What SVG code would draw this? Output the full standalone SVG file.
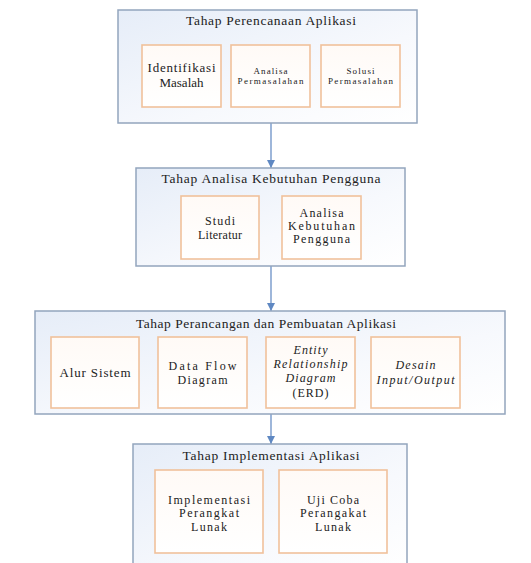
<svg xmlns="http://www.w3.org/2000/svg" width="531" height="563" viewBox="0 0 531 563">
<defs>
<linearGradient id="cg" x1="0" y1="0" x2="1" y2="1">
<stop offset="0" stop-color="#e6edf8"/>
<stop offset="0.6" stop-color="#f7f9fd"/>
<stop offset="1" stop-color="#ffffff"/>
</linearGradient>
<linearGradient id="bg" x1="0" y1="0" x2="0" y2="1">
<stop offset="0" stop-color="#fffaf6"/>
<stop offset="1" stop-color="#ffffff"/>
</linearGradient>
<marker id="ah" viewBox="0 0 10 10" refX="10" refY="5" markerWidth="8" markerHeight="8" markerUnits="userSpaceOnUse" orient="auto">
<path d="M0,0 L10,5 L0,10 z" fill="#5f88c2"/>
</marker>
<style>
.c{fill:url(#cg);stroke:#93a5bd;stroke-width:1.5}
.b{fill:url(#bg);stroke:#f0c19b;stroke-width:1.6}
text{font-family:"Liberation Serif","Times New Roman",serif;fill:#222;text-anchor:middle}
.t{font-size:13.5px}
.m{font-size:12px}
.s{font-size:9px}
.i{font-style:italic}
.a{stroke:#6a90c6;stroke-width:1.3;fill:none}
</style>
</defs>
<g id="connectors">
<line class="a" x1="271" y1="123" x2="271" y2="168" marker-end="url(#ah)"/>
<line class="a" x1="271" y1="266" x2="271" y2="311" marker-end="url(#ah)"/>
<line class="a" x1="271" y1="414" x2="271" y2="444" marker-end="url(#ah)"/>
</g>
<g id="tahap1">
<rect class="c" x="118" y="10" width="299" height="113"/>
<text class="t" x="271" y="25" textLength="170" lengthAdjust="spacing">Tahap Perencanaan Aplikasi</text>
</g>
<g id="identifikasi">
<rect class="b" x="142" y="45" width="79" height="62"/>
<text class="m" x="181.5" y="72" textLength="68" lengthAdjust="spacing" style="font-size:13px">Identifikasi</text>
<text class="m" x="181.5" y="87" textLength="44" lengthAdjust="spacing" style="font-size:13px">Masalah</text>
</g>
<g id="analisa1">
<rect class="b" x="231" y="45" width="79" height="62"/>
<text class="s" x="270.5" y="74" textLength="34" lengthAdjust="spacing">Analisa</text>
<text class="s" x="270.5" y="84" textLength="66" lengthAdjust="spacing">Permasalahan</text>
</g>
<g id="solusi">
<rect class="b" x="321" y="45" width="79" height="62"/>
<text class="s" x="360.5" y="74" textLength="28" lengthAdjust="spacing">Solusi</text>
<text class="s" x="360.5" y="84" textLength="65" lengthAdjust="spacing">Permasalahan</text>
</g>
<g id="tahap2">
<rect class="c" x="136" y="168" width="269" height="98"/>
<text class="t" x="271" y="183" textLength="219" lengthAdjust="spacing">Tahap Analisa Kebutuhan Pengguna</text>
</g>
<g id="studi">
<rect class="b" x="181" y="196" width="78" height="63"/>
<text class="m" x="220" y="225" textLength="30" lengthAdjust="spacing">Studi</text>
<text class="m" x="220" y="239" textLength="44" lengthAdjust="spacing">Literatur</text>
</g>
<g id="analisa2">
<rect class="b" x="282" y="196" width="79" height="63"/>
<text class="m" x="321.5" y="217" textLength="44" lengthAdjust="spacing">Analisa</text>
<text class="m" x="321.5" y="230" textLength="67" lengthAdjust="spacing">Kebutuhan</text>
<text class="m" x="321.5" y="243" textLength="57" lengthAdjust="spacing">Pengguna</text>
</g>
<g id="tahap3">
<rect class="c" x="35" y="311" width="470" height="103"/>
<text class="t" x="266" y="328" textLength="260" lengthAdjust="spacing">Tahap Perancangan dan Pembuatan Aplikasi</text>
</g>
<g id="alur">
<rect class="b" x="51" y="337" width="88" height="71"/>
<text class="m" x="95" y="377" textLength="71" lengthAdjust="spacing" style="font-size:13px">Alur Sistem</text>
</g>
<g id="dfd">
<rect class="b" x="158" y="337" width="89" height="71"/>
<text class="m" x="202.5" y="370" textLength="68" lengthAdjust="spacing">Data Flow</text>
<text class="m" x="202.5" y="384" textLength="50" lengthAdjust="spacing">Diagram</text>
</g>
<g id="erd">
<rect class="b" x="266" y="337" width="89" height="71"/>
<text class="m i" x="310.5" y="354" textLength="34" lengthAdjust="spacing">Entity</text>
<text class="m i" x="310.5" y="368" textLength="74" lengthAdjust="spacing">Relationship</text>
<text class="m i" x="310.5" y="382" textLength="50" lengthAdjust="spacing">Diagram</text>
<text class="m" x="310.5" y="397" textLength="36" lengthAdjust="spacing">(ERD)</text>
</g>
<g id="desain">
<rect class="b" x="371" y="337" width="89" height="71"/>
<text class="m i" x="415.5" y="369" textLength="40" lengthAdjust="spacing">Desain</text>
<text class="m i" x="415.5" y="384" textLength="78" lengthAdjust="spacing">Input/Output</text>
</g>
<g id="tahap4">
<rect class="c" x="133" y="444" width="274" height="130"/>
<text class="t" x="271" y="460" textLength="177" lengthAdjust="spacing">Tahap Implementasi Aplikasi</text>
</g>
<g id="implementasi">
<rect class="b" x="155" y="470" width="108" height="83"/>
<text class="m" x="209" y="504" textLength="82" lengthAdjust="spacing">Implementasi</text>
<text class="m" x="209" y="517" textLength="60" lengthAdjust="spacing">Perangkat</text>
<text class="m" x="209" y="531" textLength="36" lengthAdjust="spacing">Lunak</text>
</g>
<g id="ujicoba">
<rect class="b" x="279" y="470" width="108" height="83"/>
<text class="m" x="333" y="504" textLength="52" lengthAdjust="spacing">Uji Coba</text>
<text class="m" x="333" y="517" textLength="66" lengthAdjust="spacing">Perangakat</text>
<text class="m" x="333" y="531" textLength="36" lengthAdjust="spacing">Lunak</text>
</g>
</svg>
